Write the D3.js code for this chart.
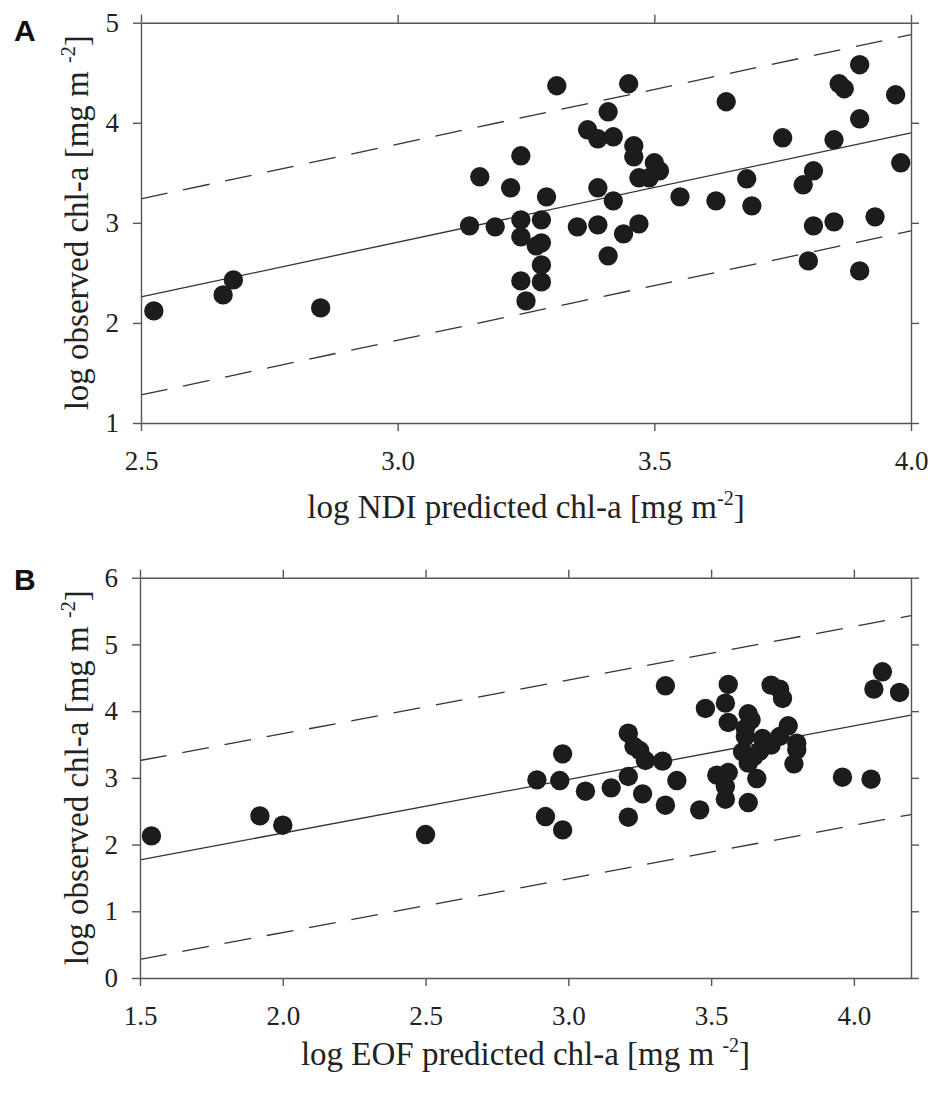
<html>
<head>
<meta charset="utf-8">
<style>
  body { margin: 0; background: #fff; }
</style>
</head>
<body>
<div id="chartContainer"></div>
<script src="https://cdnjs.cloudflare.com/ajax/libs/d3/7.8.5/d3.min.js"></script>
<script type="text/javascript">
  // ---- data ----
  // panel A: NDI predicted vs observed (log chl-a)
  var ndiPred = [2.525, 2.66, 2.68, 2.85, 3.14, 3.16, 3.19, 3.22, 3.24, 3.24, 3.24, 3.24, 3.25, 3.27,
    3.28, 3.28, 3.28, 3.28, 3.29, 3.31, 3.35, 3.37, 3.39, 3.39, 3.39, 3.41, 3.42, 3.42, 3.41, 3.44,
    3.45, 3.46, 3.46, 3.47, 3.47, 3.49, 3.50, 3.51, 3.55, 3.62, 3.64, 3.68, 3.69, 3.75, 3.79, 3.81,
    3.81, 3.80, 3.85, 3.85, 3.86, 3.87, 3.90, 3.90, 3.90, 3.93, 3.97, 3.98];
  var ndiObs = [2.12, 2.28, 2.43, 2.15, 2.97, 3.46, 2.96, 3.35, 3.67, 3.03, 2.86, 2.42, 2.22, 2.77,
    3.03, 2.80, 2.58, 2.41, 3.26, 4.37, 2.96, 3.93, 3.84, 3.35, 2.98, 4.11, 3.86, 3.22, 2.67, 2.89,
    4.39, 3.77, 3.66, 2.99, 3.45, 3.45, 3.60, 3.52, 3.26, 3.22, 4.21, 3.44, 3.17, 3.85, 3.38, 3.52,
    2.97, 2.62, 3.01, 3.83, 4.39, 4.34, 4.04, 4.58, 2.52, 3.06, 4.28, 3.60];
  var ndiFitX = [2.5, 4.0];
  var ndiFitY = [2.26, 3.90];
  var ndiBand = 0.98;
  var ndiXTicks = [2.5, 3.0, 3.5, 4.0];
  var ndiYTicks = [1, 2, 3, 4, 5];

  // panel B: EOF predicted vs observed (log chl-a)
  var eofPred = [1.54, 1.92, 2.00, 2.50, 2.89, 2.98, 2.97, 2.92, 2.98, 3.06, 3.15, 3.21, 3.23, 3.25,
    3.27, 3.21, 3.26, 3.21, 3.33, 3.34, 3.38, 3.34, 3.46, 3.48, 3.52, 3.56, 3.55, 3.55, 3.56, 3.55,
    3.56, 3.62, 3.63, 3.64, 3.62, 3.61, 3.65, 3.63, 3.66, 3.63, 3.68, 3.67, 3.71, 3.71, 3.74, 3.75,
    3.77, 3.74, 3.80, 3.80, 3.79, 3.96, 4.06, 4.07, 4.10, 4.16];
  var eofObs = [2.13, 2.43, 2.29, 2.15, 2.97, 3.36, 2.96, 2.42, 2.22, 2.80, 2.85, 3.67, 3.47, 3.41,
    3.26, 3.02, 2.76, 2.41, 3.25, 4.38, 2.96, 2.59, 2.52, 4.04, 3.04, 3.08, 2.87, 2.68, 4.40, 4.12,
    3.83, 3.74, 3.96, 3.87, 3.62, 3.39, 3.32, 3.22, 2.99, 2.63, 3.59, 3.40, 3.49, 4.39, 4.33, 4.19,
    3.78, 3.62, 3.52, 3.42, 3.21, 3.01, 2.98, 4.33, 4.59, 4.28];
  var eofFitX = [1.5, 4.2];
  var eofFitY = [1.77, 3.94];
  var eofBand = 1.49;
  var eofXTicks = [1.5, 2.0, 2.5, 3.0, 3.5, 4.0];
  var eofYTicks = [0, 1, 2, 3, 4, 5, 6];

  var W = 941, H = 1093;
  var svg = d3.select("#chartContainer").append("svg")
    .attr("width", W).attr("height", H);

  var serif = "'Liberation Serif', 'Times New Roman', serif";

  function panel(opts) {
    var x = d3.scaleLinear().domain(opts.xDomain).range([opts.left, opts.right]);
    var y = d3.scaleLinear().domain(opts.yDomain).range([opts.bottom, opts.top]);
    var g = svg.append("g");

    // regression line and prediction band
    var lineGen = d3.line().x(function (d) { return x(d[0]); }).y(function (d) { return y(d[1]); });
    [0, opts.band, -opts.band].forEach(function (off, i) {
      g.append("path")
        .datum(opts.fitX.map(function (v, k) { return [v, opts.fitY[k] + off]; }))
        .attr("d", lineGen)
        .attr("fill", "none")
        .attr("stroke", "#333")
        .attr("stroke-width", 1.3)
        .attr("stroke-dasharray", i === 0 ? null : "27,16");
    });

    // points
    g.selectAll("circle.pt")
      .data(opts.px.map(function (v, i) { return [v, opts.py[i]]; }))
      .enter().append("circle")
      .attr("class", "pt")
      .attr("cx", function (d) { return x(d[0]); })
      .attr("cy", function (d) { return y(d[1]); })
      .attr("r", 9.7)
      .attr("fill", "#1c1c1c");

    // axes on all four sides, ticks outward
    function style(sel) {
      sel.selectAll(".domain").attr("stroke", "#555").attr("stroke-width", 1.4);
      sel.selectAll(".tick line").attr("stroke", "#555").attr("stroke-width", 1.4);
      sel.selectAll("text").style("font-family", serif).style("font-size", "27px").attr("fill", "#222");
    }
    var bottom = g.append("g").attr("transform", "translate(0," + opts.bottom + ")")
      .call(d3.axisBottom(x).tickValues(opts.xTicks).tickFormat(d3.format(".1f"))
        .tickSizeInner(8).tickSizeOuter(0).tickPadding(20));
    style(bottom);
    var left = g.append("g").attr("transform", "translate(" + opts.left + ",0)")
      .call(d3.axisLeft(y).tickValues(opts.yTicks).tickFormat(d3.format("d"))
        .tickSizeInner(8).tickSizeOuter(0).tickPadding(14));
    style(left);
    var top = g.append("g").attr("transform", "translate(0," + opts.top + ")")
      .call(d3.axisTop(x).tickValues(opts.xTicks).tickFormat("").tickSizeInner(8).tickSizeOuter(0));
    style(top);
    var right = g.append("g").attr("transform", "translate(" + opts.right + ",0)")
      .call(d3.axisRight(y).tickValues(opts.yTicks).tickFormat("").tickSizeInner(8).tickSizeOuter(0));
    style(right);

    // x title
    var xt = g.append("text")
      .attr("x", (opts.left + opts.right) / 2)
      .attr("y", opts.xTitleY)
      .attr("text-anchor", "middle")
      .style("font-family", serif).style("font-size", "33px").attr("fill", "#222");
    xt.append("tspan").text(opts.xTitle + (opts.xSpace ? " " : ""));
    xt.append("tspan").attr("dy", -13).style("font-size", "20px").text("-2");
    xt.append("tspan").attr("dy", 13).text("]");

    // y title
    var yt = g.append("text")
      .attr("transform", "translate(88," + (opts.top + opts.bottom) / 2 + ") rotate(-90)")
      .attr("text-anchor", "middle")
      .style("font-family", serif).style("font-size", "33px").attr("fill", "#222");
    yt.append("tspan").text("log observed chl-a [mg m ");
    yt.append("tspan").attr("dy", -13).style("font-size", "20px").text("-2");
    yt.append("tspan").attr("dy", 13).text("]");

    // panel letter
    svg.append("text")
      .attr("x", 14).attr("y", opts.letterY)
      .style("font-family", "'Liberation Sans', Arial, sans-serif")
      .style("font-size", "30px").style("font-weight", "bold").attr("fill", "#111")
      .text(opts.letter);
  }

  panel({
    px: ndiPred, py: ndiObs, fitX: ndiFitX, fitY: ndiFitY, band: ndiBand,
    xDomain: [2.5, 4.0], yDomain: [1, 5], xTicks: ndiXTicks, yTicks: ndiYTicks,
    left: 141, right: 911, top: 22.7, bottom: 423,
    xTitle: "log NDI predicted chl-a [mg m", xSpace: false, xTitleY: 518,
    letter: "A", letterY: 41
  });

  panel({
    px: eofPred, py: eofObs, fitX: eofFitX, fitY: eofFitY, band: eofBand,
    xDomain: [1.5, 4.2], yDomain: [0, 6], xTicks: eofXTicks, yTicks: eofYTicks,
    left: 140, right: 911, top: 577.7, bottom: 978,
    xTitle: "log EOF predicted chl-a [mg m", xSpace: true, xTitleY: 1065,
    letter: "B", letterY: 590
  });
</script>
</body>
</html>
